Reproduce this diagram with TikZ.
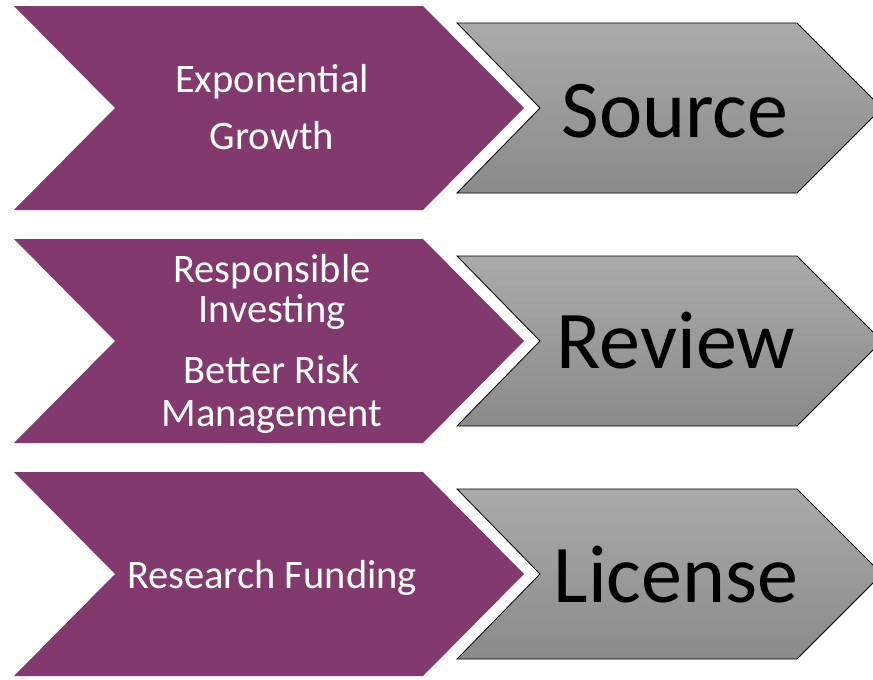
\documentclass[tikz,border=0pt]{standalone}
\usepackage{fontspec}
\setmainfont{Carlito}
\definecolor{plum}{HTML}{823A6E}
\definecolor{gtop}{HTML}{AAAAAA}
\definecolor{gbot}{HTML}{8A8A8A}
\tikzset{
  purplechev/.style={fill=plum, draw=none},
  graychev/.style={top color=gtop, bottom color=gbot, draw=black, line width=0.8pt, line join=miter},
  smalltxt/.style={text=white, font=\fontsize{40.5}{40.5}\selectfont, anchor=base, inner sep=0pt},
  bigtxt/.style={text=black, font=\fontsize{82}{82}\selectfont, anchor=base, inner sep=0pt}
}
\begin{document}
\begin{tikzpicture}[x=1pt,y=-1pt]
\useasboundingbox (0,0) rectangle (873,680);
\clip (0,0) rectangle (873,680);
\fill[white] (0,0) rectangle (873,680);
\foreach \T in {6,239,472}{
  \pgfmathsetmacro{\M}{\T+102}
  \pgfmathsetmacro{\B}{\T+204}
  \pgfmathsetmacro{\GT}{\T+17}
  \pgfmathsetmacro{\GB}{\T+187}
  \path[purplechev] (14,\T) -- (423,\T) -- (524,\M) -- (423,\B) -- (14,\B) -- (115,\M) -- cycle;
  \path[graychev] (457,\GT) -- (797,\GT) -- (882,\M) -- (797,\GB) -- (457,\GB) -- (540,\M) -- cycle;
}
\node[smalltxt] (t1a) at (272,92) {Exponential};
\node[smalltxt] (t1b) at (272,149) {Growth};
\node[smalltxt] (t2a) at (272,282) {Responsible};
\node[smalltxt] (t2b) at (272,322) {Investing};
\node[smalltxt] (t2c) at (272,383) {Better Risk};
\node[smalltxt] (t2d) at (272,426) {Management};
\node[smalltxt] (t3a) at (272,588) {Research Funding};
\node[bigtxt] (s1) at (675,137) {Source};
\node[bigtxt] (s2) at (676,368) {Review};
\node[bigtxt] (s3) at (676,602) {License};
\end{tikzpicture}
\end{document}
